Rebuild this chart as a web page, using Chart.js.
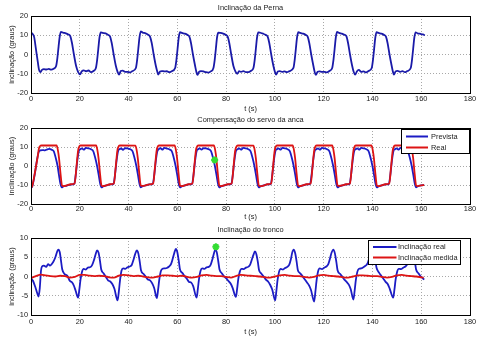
<!DOCTYPE html>
<html>
<head>
<meta charset="utf-8">
<script src="https://cdn.jsdelivr.net/npm/chart.js@4.4.1/dist/chart.umd.min.js"></script>
<style>
html, body { margin: 0; padding: 0; background: #fff; }
#wrap { position: relative; width: 481px; height: 348px; }
#wrap canvas { position: absolute; left: 0; top: 0; }
</style>
</head>
<body>
<div id="wrap">
<canvas id="c1" width="481" height="348"></canvas>
<canvas id="c2" width="481" height="348"></canvas>
<canvas id="c3" width="481" height="348"></canvas>
</div>
<script>
// eixos
const xTicks = [0, 20, 40, 60, 80, 100, 120, 140, 160, 180];
const yTicksA = [-20, -10, 0, 10, 20];
const yTicksB = [-10, -5, 0, 5, 10];
const titles = ['Inclinação da Perna', 'Compensação do servo da anca', 'Inclinação do tronco'];

// Inclinação da Perna
const pernaT = [0, 0.6, 1.3, 2, 2.8, 3.3, 3.8,
  4.5, 5.3, 6.3, 7.3, 8.3, 9.3, 10.3, 10.8, 11.3, 11.8, 12.3, 13.1, 14.3, 15.3, 16.1, 16.8, 17.6, 18.5, 19.3, 20.1,
  20.8, 21.6, 22.6, 23.6, 24.6, 25.6, 26.6, 27.1, 27.6, 28.1, 28.6, 29.4, 30.6, 31.6, 32.4, 33.1, 33.9, 34.8, 35.5, 36.1,
  36.8, 37.6, 38.6, 39.6, 40.6, 41.6, 43, 43.5, 44, 44.5, 45, 45.8, 47, 48, 48.8, 49.5, 50.3, 51.2, 51.8, 52.2,
  52.9, 53.7, 54.7, 55.7, 56.7, 57.7, 59.1, 59.6, 60.1, 60.6, 61.1, 61.9, 63.1, 64.1, 64.9, 65.6, 66.4, 67.3, 67.8, 68.2,
  68.9, 69.7, 70.7, 71.7, 72.7, 73.7, 74.8, 75.3, 75.8, 76.3, 76.8, 77.6, 78.8, 79.8, 80.6, 81.3, 82.1, 83, 83.9, 84.6,
  85.3, 86.1, 87.1, 88.1, 89.1, 90.1, 91.2, 91.7, 92.2, 92.7, 93.2, 94, 95.2, 96.2, 97, 97.7, 98.5, 99.4, 100, 100.5,
  101.2, 102, 103, 104, 105, 106, 107.6, 108.1, 108.6, 109.1, 109.6, 110.4, 111.6, 112.6, 113.4, 114.1, 114.9, 115.8, 116.3, 116.8,
  117.5, 118.3, 119.3, 120.3, 121.3, 122.3, 123.5, 124, 124.5, 125, 125.5, 126.3, 127.5, 128.5, 129.3, 130, 130.8, 131.7, 132.3, 132.9,
  133.6, 134.4, 135.4, 136.4, 137.4, 138.4, 139.7, 140.2, 140.7, 141.2, 141.7, 142.5, 143.7, 144.7, 145.5, 146.2, 147, 147.9, 148.4, 148.8,
  149.5, 150.3, 151.3, 152.3, 153.3, 154.3, 155.7, 156.2, 156.7, 157.2, 157.7, 158.5, 159.7, 160.7, 161.5];
const pernaV = [11.2, 10.8, 9, 3, -4, -8, -9.2,
  -8, -7.6, -7.8, -7.5, -7.9, -7.4, -6, -2, 4, 9.5, 11.8, 11.4, 11, 10.4, 9.6, 6, 0, -6, -9, -10.3,
  -8.8, -8.2, -8.7, -8.3, -9.2, -8.6, -7, -3, 3, 9, 11.5, 11.2, 11, 10.2, 9.4, 6, 0, -6, -9, -10.5,
  -8.6, -8.4, -9, -9, -9.3, -8.6, -7, -3, 3, 9, 12, 11.4, 11, 10.3, 9.3, 6, 0, -6, -9, -10.4,
  -8.8, -8.6, -8.8, -8.7, -9.2, -8.7, -7, -3, 3, 9, 11.6, 11.2, 10.8, 10.2, 9.4, 6, 0, -6, -9, -10.6,
  -9, -8.6, -8.8, -9.2, -9.4, -8.8, -7, -3, 3, 9, 11.3, 11.2, 10.8, 10.2, 9.4, 6, 0, -6, -9, -10,
  -8.7, -9, -8.6, -9.2, -9.2, -8.6, -7, -3, 3, 9, 11.5, 11.3, 10.8, 10.2, 9.4, 6, 0, -6, -9, -10.5,
  -8.8, -8.6, -9, -8.8, -9.2, -8.6, -7, -3, 3, 9, 11.6, 11.2, 10.8, 10.2, 9.4, 6, 0, -6, -9, -10.6,
  -9, -8.8, -9, -9, -9.3, -8.6, -7, -3, 3, 9, 11.7, 11.2, 10.8, 10.3, 9.5, 6, 0, -6, -9, -10.5,
  -8.8, -8, -9, -8.8, -9.3, -8.6, -7, -3, 3, 9, 11.6, 11.2, 10.8, 10.2, 9.4, 6, 0, -6, -9, -10.5,
  -8.8, -8.5, -9, -8.6, -9.2, -8.6, -7, -3, 3, 9, 11.5, 11, 10.7, 10.4, 10];

// Compensação do servo da anca - Prevista
const prevT = [0, 0.5, 1.5, 2.5, 3.2, 3.8, 4.7, 5.7, 6.7, 7.5, 8.4, 9.3, 10.1, 10.9, 11.5, 12.1, 12.6, 13.2, 14.7, 16.2, 17.7, 18.4, 19, 19.6,
  20.2, 20.9, 21.6, 22.5, 23.5, 24.6, 25.5, 26.3, 27.1, 27.8, 28.4, 28.9, 29.5, 30.9, 32.4, 33.8, 34.5, 35.1, 35.7,
  36.3, 37, 37.7, 38.6, 39.6, 40.7, 41.6, 42.4, 43.2, 43.9, 44.5, 45, 45.6, 47, 48.5, 49.9, 50.6, 51.2, 51.8,
  52.4, 53.1, 53.8, 54.7, 55.7, 56.8, 57.7, 58.5, 59.3, 60, 60.6, 61.1, 61.7, 63.1, 64.6, 66, 66.7, 67.3, 67.9,
  68.5, 69.2, 69.9, 70.8, 71.8, 72.9, 73.8, 74.6, 75.4, 76.1, 76.7, 77.2, 77.8, 79.2, 80.7, 82.1, 82.8, 83.4, 84,
  84.7, 85.4, 86.1, 87, 88, 89.1, 90, 90.8, 91.6, 92.3, 92.9, 93.4, 94, 95.4, 96.9, 98.3, 99, 99.6, 100.2,
  100.8, 101.5, 102.2, 103.1, 104.1, 105.2, 106.1, 106.9, 107.7, 108.4, 109, 109.5, 110.1, 111.5, 113, 114.4, 115.1, 115.7, 116.3,
  117, 117.7, 118.4, 119.3, 120.3, 121.4, 122.3, 123.1, 123.9, 124.6, 125.2, 125.7, 126.3, 127.7, 129.2, 130.6, 131.3, 131.9, 132.5,
  133.1, 133.8, 134.5, 135.4, 136.4, 137.5, 138.4, 139.2, 140, 140.7, 141.3, 141.8, 142.4, 143.8, 145.3, 146.7, 147.4, 148, 148.6,
  149.2, 149.9, 150.6, 151.5, 152.5, 153.6, 154.5, 155.3, 156.1, 156.8, 157.4, 157.9, 158.5, 159.9, 161.2];
const prevV = [-11.5, -10.8, -4.6, 3.5, 7.5, 8.2, 8.4, 8.2, 8.8, 9, 8.6, 7.8, 4.5, 0, -5, -9.5, -11.3, -10.8, -10.3, -9.8, -9.5, -4, 3, 7.8,
  8.8, 9.3, 8.6, 9.5, 9.3, 8.8, 7.8, 4.5, 0, -5, -9.5, -11.3, -10.8, -10.2, -9.7, -9.5, -4, 3, 7.8,
  8.9, 9.2, 8.5, 9.4, 9.3, 8.8, 7.8, 4.5, 0, -5, -9.5, -11.2, -10.8, -10.2, -9.7, -9.5, -4, 3, 7.8,
  8.9, 9.4, 8.6, 9.5, 9.2, 8.7, 7.8, 4.5, 0, -5, -9.5, -11.3, -10.8, -10.2, -9.7, -9.5, -4, 3, 7.8,
  8.8, 9.3, 8.6, 9.4, 9.3, 8.8, 7.8, 4.5, 0, -5, -9.5, -11.3, -10.8, -10.2, -9.7, -9.5, -4, 3, 7.8,
  8.8, 9.3, 8.6, 9.5, 9.3, 8.8, 7.8, 4.5, 0, -5, -9.5, -11.3, -10.8, -10.2, -9.7, -9.5, -4, 3, 7.8,
  8.8, 9.3, 8.6, 9.5, 9.3, 8.8, 7.8, 4.5, 0, -5, -9.5, -11.3, -10.8, -10.2, -9.7, -9.5, -4, 3, 7.8,
  8.8, 9.3, 8.6, 9.5, 9.3, 8.8, 7.8, 4.5, 0, -5, -9.5, -11.3, -10.8, -10.2, -9.7, -9.5, -4, 3, 7.8,
  8.8, 9.3, 8.6, 9.5, 9.3, 8.8, 7.8, 4.5, 0, -5, -9.5, -11.3, -10.8, -10.2, -9.7, -9.5, -4, 3, 7.8,
  8.8, 9.3, 8.6, 9.5, 9.3, 8.8, 7.8, 4.5, 0, -5, -9.5, -11.2, -10.8, -10.2, -10.1];

// Compensação do servo da anca - Real
const servoT = [0, 0.5, 1.5, 2.7, 3.3, 3.9, 4.4, 10.5, 11, 11.5, 12.1, 12.7, 13.3, 14.7, 16.2, 17.9, 18.6, 19.3, 19.9,
  20.4, 26.7, 27.2, 27.7, 28.3, 28.9, 29.5, 30.9, 32.4, 34, 34.7, 35.4, 36,
  36.5, 42.8, 43.3, 43.8, 44.4, 45, 45.6, 47, 48.5, 50.1, 50.8, 51.5, 52.1,
  52.6, 58.9, 59.4, 59.9, 60.5, 61.1, 61.7, 63.1, 64.6, 66.2, 66.9, 67.6, 68.2,
  68.7, 75, 75.5, 76, 76.6, 77.2, 77.8, 79.2, 80.7, 82.3, 83, 83.7, 84.4,
  84.9, 91.2, 91.7, 92.2, 92.8, 93.4, 94, 95.4, 96.9, 98.5, 99.2, 99.9, 100.5,
  101, 107.3, 107.8, 108.3, 108.9, 109.5, 110.1, 111.5, 113, 114.7, 115.4, 116.1, 116.7,
  117.2, 123.5, 124, 124.5, 125.1, 125.7, 126.3, 127.7, 129.2, 130.8, 131.5, 132.2, 132.8,
  133.3, 139.6, 140.1, 140.6, 141.2, 141.8, 142.4, 143.8, 145.3, 146.9, 147.6, 148.3, 148.9,
  149.4, 155.7, 156.2, 156.7, 157.3, 157.9, 158.5, 159.9, 161.2];
const servoV = [-11.2, -10.6, -4.2, 4.6, 9.5, 10.7, 10.8, 10.8, 8.5, 4, -4, -10.2, -10.6, -10.2, -9.6, -9.2, -1, 8, 10.5,
  10.8, 10.8, 8.5, 4, -4, -10.2, -10.6, -10.2, -9.6, -9.2, -1, 8, 10.5,
  10.8, 10.7, 8.5, 4, -4, -10.2, -10.5, -10.2, -9.7, -9.2, -1, 8, 10.5,
  10.8, 10.8, 8.5, 4, -4, -10.2, -10.6, -10.2, -9.6, -9.2, -1, 8, 10.5,
  10.8, 10.8, 8.5, 4, -4, -10.2, -10.6, -10.2, -9.6, -9.2, -1, 8, 10.5,
  10.8, 10.7, 8.5, 4, -4, -10.2, -10.6, -10.3, -9.6, -9.2, -1, 8, 10.5,
  10.8, 10.8, 8.5, 4, -4, -10.2, -10.6, -10.2, -9.6, -9.2, -1, 8, 10.5,
  10.8, 10.8, 8.5, 4, -4, -10.2, -10.5, -10.2, -9.6, -9.2, -1, 8, 10.5,
  10.8, 10.8, 8.5, 4, -4, -10.2, -10.6, -10.2, -9.6, -9.2, -1, 8, 10.5,
  10.8, 10.8, 8.5, 4, -4, -10.2, -10.6, -10.2, -10];

// Inclinação do tronco - real
const troncoT = [0, 0.8, 1.8, 2.6, 3.1, 3.6, 4.1, 4.5, 5.3, 6.2, 7, 7.8, 8.6, 9.4, 10.1, 10.8, 11.2, 11.8, 12.3, 12.8, 13.8, 14.9, 15.9, 16.8, 17.6, 18.3,
  19.3, 19.8, 20.3, 20.9, 21.6, 22.5, 23.3, 24.2, 25, 25.8, 26.5, 27.1, 27.7, 28.3, 28.8, 29.8, 30.8, 31.6, 32.5, 33.4, 34.2,
  35.5, 36, 36.5, 37.1, 37.8, 38.7, 39.6, 40.5, 41.3, 42, 42.7, 43.4, 44, 44.6, 45.1, 46.1, 47, 47.9, 48.8, 49.7, 50.5,
  51.6, 52.1, 52.6, 53.2, 53.9, 54.8, 55.7, 56.6, 57.4, 58.1, 58.8, 59.4, 60, 60.6, 61.1, 62.1, 63, 63.9, 64.8, 65.7, 66.5,
  67.9, 68.4, 68.9, 69.5, 70.2, 71.1, 72, 72.9, 73.7, 74.4, 75, 75.6, 76.2, 76.8, 77.3, 78.3, 79.2, 80.1, 81, 81.9, 82.7,
  84, 84.5, 85, 85.6, 86.3, 87.2, 88.1, 89, 89.8, 90.5, 91.2, 91.8, 92.4, 93, 93.5, 94.5, 95.4, 96.3, 97.2, 98.1, 98.9,
  100.1, 100.6, 101.1, 101.7, 102.4, 103.3, 104.2, 105.1, 105.9, 106.6, 107.1, 107.7, 108.3, 108.9, 109.4, 110.4, 111.3, 112.2, 113.1, 114, 114.8,
  116.1, 116.6, 117.1, 117.7, 118.4, 119.3, 120.2, 121.1, 121.9, 122.6, 123.3, 124, 124.6, 125.2, 125.7, 126.7, 127.6, 128.5, 129.4, 130.3, 131.1,
  132.2, 132.7, 133.2, 133.8, 134.5, 135.4, 136.3, 137.2, 138, 138.7, 139.4, 140, 140.6, 141.2, 141.7, 142.7, 143.6, 144.5, 145.4, 146.3, 147.1,
  148.5, 149, 149.5, 150.1, 150.8, 151.7, 152.6, 153.5, 154.3, 155, 155.6, 156.2, 156.8, 157.4, 157.9, 158.9, 159.8, 160.6, 161.2];
const troncoV = [-0.5, -1.1, -2.8, -4.4, -5.2, -3, 1.5, 2.6, 2.8, 2.5, 3.2, 2.8, 3.3, 4.1, 5.2, 6.6, 7, 6.3, 4.1, 1.9, 0.6, 0.2, -1.1, -1.5, -2.4, -3.7,
  -5.5, -3.5, -0.8, 1.2, 2, 1.8, 2.3, 2.4, 2.9, 4.2, 5.8, 6.8, 6.2, 4, 1.8, 0.8, -0.2, -1, -1.3, -2, -3.2,
  -6.2, -4, -1, 1.5, 2.1, 2, 2.4, 2.6, 3, 4.3, 5.8, 6.8, 6, 3.8, 1.6, 0.7, 0, -0.8, -1, -1.8, -3,
  -5.6, -3.5, -0.8, 1.3, 2, 2.1, 2.2, 2.6, 3.2, 4.6, 6.2, 7.2, 6.3, 4, 1.8, 0.9, 0.1, -0.6, -1.4, -1.6, -2.5,
  -5.5, -3.3, -0.6, 1.4, 2.1, 2, 2.4, 2.5, 3.1, 4.5, 6, 7, 6.2, 3.9, 1.8, 0.8, 0, -0.5, -1.2, -1.9, -3,
  -5.3, -3.3, -0.6, 1.2, 2, 1.9, 2.3, 2.5, 3, 4.3, 5.6, 6.5, 5.8, 3.8, 1.7, 0.7, 0, -0.8, -1.3, -2.2, -3.4,
  -6.2, -3.8, -0.9, 1.2, 2, 1.8, 2.2, 2.5, 3.1, 4.6, 6.2, 7, 6.1, 3.9, 1.7, 0.8, 0.1, -0.7, -1.5, -2.3, -3.5,
  -6.5, -4, -1, 1.3, 2.1, 1.9, 2.3, 2.6, 3.2, 4.7, 6.3, 7, 6, 3.8, 1.6, 0.7, 0, -0.8, -1.4, -2.1, -3.3,
  -6, -3.7, -0.9, 1.2, 2, 2.1, 2.4, 2.8, 3.4, 4.8, 6.2, 7, 6.1, 4, 2.2, 1, 0.2, -0.6, -1.4, -2, -3.2,
  -5.5, -3.5, -0.8, 1.2, 2, 1.9, 2.3, 2.6, 3.2, 4.6, 6, 6.8, 6, 3.9, 1.8, 0.8, 0, -0.4, -0.8];

// Inclinação do tronco - medida
const medT = [0, 2, 4, 6, 8, 10, 12, 14, 16, 18, 20, 22, 24, 26, 28, 30, 32, 34, 36, 38, 40, 42, 44, 46, 48, 50,
  52, 54, 56, 58, 60, 62, 64, 66, 68, 70, 72, 74, 76, 78, 80, 82, 84, 86, 88, 90, 92, 94, 96, 98, 100,
  102, 104, 106, 108, 110, 112, 114, 116, 118, 120, 122, 124, 126, 128, 130, 132, 134, 136, 138, 140,
  142, 144, 146, 148, 150, 152, 154, 156, 158, 160, 161];
const medV = [-0.4, 0.1, 0.5, 0.3, 0.1, 0, 0.2, 0.1, -0.3, -0.1, 0.4, 0.4, 0.2, 0.1, 0.2, 0.1, -0.2, -0.3, 0.2, 0.4, 0.3, 0.1, 0.2, 0, -0.2, -0.3,
  0, 0.3, 0.3, 0.2, 0.1, 0.2, -0.1, -0.3, -0.1, 0.3, 0.4, 0.2, 0.1, 0.1, -0.1, -0.3, 0.1, 0.4, 0.3, 0.2, 0.1, 0, -0.2, -0.3, 0,
  0.3, 0.4, 0.2, 0.1, 0.1, -0.1, -0.3, -0.1, 0.3, 0.4, 0.2, 0.1, 0, -0.2, -0.3, 0, 0.3, 0.3, 0.2, 0.1,
  0.1, -0.1, -0.3, -0.1, 0.3, 0.4, 0.2, 0.1, 0, -0.2, -0.3];

// marcadores verdes
const markT = [75.3, 75.8];
const markV = [3.2, 7.7];

const FONT_FAMILY = "'Liberation Sans', Arial, sans-serif";
const FONT_SIZE = 7.4;
const FONT = FONT_SIZE + 'px ' + FONT_FAMILY;
const BLUE = '#1c1cc4';
const RED = '#dd1414';
const GREEN = '#33dd33';

Chart.defaults.font.family = FONT_FAMILY;
Chart.defaults.font.size = FONT_SIZE;
Chart.defaults.color = '#222';

const pts = (xs, ys) => xs.slice(0, Math.min(xs.length, ys.length)).map((x, i) => ({ x: x, y: ys[i] }));

// caixa dos eixos + titulo do subplot
const frame = {
    id: 'frame',
    afterDatasetsDraw(chart, args, opts) {
        const a = chart.chartArea;
        const c = chart.ctx;
        c.save();
        c.strokeStyle = '#000';
        c.lineWidth = 1;
        c.strokeRect(a.left + 0.5, a.top + 0.5, a.right - a.left, a.bottom - a.top);
        c.fillStyle = '#222';
        c.font = FONT;
        c.textAlign = 'center';
        c.textBaseline = 'middle';
        c.fillText(opts.title, (a.left + a.right) / 2, a.top - 8);
        c.restore();
    }
};

// legenda dentro dos eixos
const boxLegend = {
    id: 'boxLegend',
    afterDraw(chart, args, o) {
        if (!o || !o.w) return;
        const c = chart.ctx;
        c.save();
        c.fillStyle = '#fff';
        c.fillRect(o.x, o.y, o.w, o.h);
        c.strokeStyle = '#000';
        c.lineWidth = 1;
        c.strokeRect(o.x + 0.5, o.y + 0.5, o.w, o.h);
        c.font = FONT;
        c.textAlign = 'left';
        c.textBaseline = 'middle';
        const items = chart.data.datasets.filter(d => d.label);
        items.forEach((d, i) => {
            const y = o.y + (i === 0 ? o.r0 : o.r1);
            c.strokeStyle = d.borderColor;
            c.lineWidth = 2;
            c.beginPath();
            c.moveTo(o.x + o.l0, y);
            c.lineTo(o.x + o.l1, y);
            c.stroke();
            c.fillStyle = '#222';
            c.fillText(d.label, o.x + o.tx, y);
        });
        c.restore();
    }
};

function line(label, xs, ys, color, order) {
    return {
        label: label,
        data: pts(xs, ys),
        borderColor: color,
        backgroundColor: color,
        borderWidth: 1.8,
        pointRadius: 0,
        fill: false,
        cubicInterpolationMode: 'monotone',
        order: order
    };
}

function marker(x, y) {
    return {
        data: [{ x: x, y: y }],
        showLine: false,
        pointStyle: 'star',
        pointRadius: 3.5,
        borderColor: GREEN,
        backgroundColor: GREEN,
        pointBorderWidth: 2,
        order: -1
    };
}

function makeChart(id, cfg) {
    const yTicks = cfg.yTicks;
    return new Chart(document.getElementById(id), {
        type: 'line',
        data: { datasets: cfg.datasets },
        options: {
            responsive: false,
            animation: false,
            devicePixelRatio: 1,
            events: [],
            layout: { padding: { left: 0, right: 11, top: cfg.top, bottom: cfg.bottom } },
            plugins: {
                legend: { display: false },
                tooltip: { enabled: false },
                frame: { title: cfg.title },
                boxLegend: cfg.legend || { w: 0 }
            },
            scales: {
                x: {
                    type: 'linear',
                    min: xTicks[0],
                    max: xTicks[xTicks.length - 1],
                    afterFit: s => { s.height = cfg.xh; },
                    afterBuildTicks: s => { s.ticks = xTicks.map(v => ({ value: v })); },
                    ticks: { padding: cfg.tickPad, maxRotation: 0, autoSkip: false, color: '#222' },
                    grid: { color: '#a8a8a8', drawTicks: false, lineWidth: 1 },
                    border: { display: false, dash: [1, 2] },
                    title: { display: true, text: 't (s)', padding: 0, color: '#222' }
                },
                y: {
                    type: 'linear',
                    min: yTicks[0],
                    max: yTicks[yTicks.length - 1],
                    afterFit: s => { s.width = 31; },
                    afterBuildTicks: s => { s.ticks = yTicks.map(v => ({ value: v })); },
                    ticks: { padding: 3, color: '#222' },
                    grid: { color: '#a8a8a8', drawTicks: false, lineWidth: 1 },
                    border: { display: false, dash: [1, 2] },
                    title: { display: true, text: 'inclinação (graus)', padding: { top: 7.3, bottom: 0 }, color: '#222' }
                }
            }
        },
        plugins: [frame, boxLegend]
    });
}

makeChart('c1', {
    title: titles[0], yTicks: yTicksA,
    top: 16, bottom: 234.5, xh: 20.5, tickPad: 2,
    datasets: [line('', pernaT, pernaV, '#1a1aa8', 1)]
});

makeChart('c2', {
    title: titles[1], yTicks: yTicksA,
    top: 128, bottom: 127, xh: 17, tickPad: 1,
    datasets: [
        line('Prevista', prevT, prevV, BLUE, 1),
        line('Real', servoT, servoV, RED, 0),
        marker(markT[0], markV[0])
    ],
    legend: { x: 401, y: 129, w: 68, h: 24, r0: 7.5, r1: 18.5, l0: 5, l1: 27, tx: 30 }
});

makeChart('c3', {
    title: titles[2], yTicks: yTicksB,
    top: 238, bottom: 12, xh: 21, tickPad: 3,
    datasets: [
        line('Inclinação real', troncoT, troncoV, BLUE, 1),
        line('Inclinação medida', medT, medV, RED, 0),
        marker(markT[1], markV[1])
    ],
    legend: { x: 368, y: 240, w: 92, h: 24, r0: 7, r1: 17.5, l0: 5, l1: 28.5, tx: 30 }
});
</script>
</body>
</html>
